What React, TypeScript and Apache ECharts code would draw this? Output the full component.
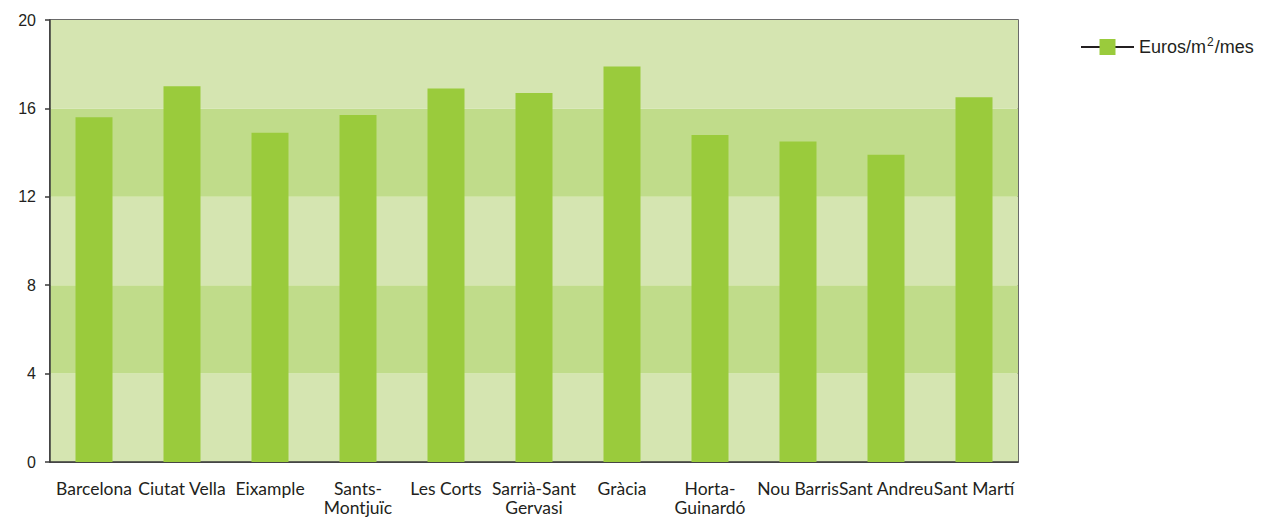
import React, { useEffect, useRef } from "react";
import * as echarts from "echarts";

const categories = [
  "Barcelona",
  "Ciutat Vella",
  "Eixample",
  "Sants-\nMontjuïc",
  "Les Corts",
  "Sarrià-Sant\nGervasi",
  "Gràcia",
  "Horta-\nGuinardó",
  "Nou Barris",
  "Sant Andreu",
  "Sant Martí",
];
const values = [15.6, 17.0, 14.9, 15.7, 16.9, 16.7, 17.9, 14.8, 14.5, 13.9, 16.5];
const seriesName = "Euros/m2/mes";

export default function App() {
  const ref = useRef<HTMLDivElement>(null);
  useEffect(() => {
    if (!ref.current) return;
    const chart = echarts.init(ref.current, undefined, { renderer: "svg" });
    chart.setOption({
      animation: false,
      grid: {
        left: 50,
        right: 246,
        top: 20,
        bottom: 53,
        show: true,
        borderColor: "#3a3a3a",
        borderWidth: 1.5,
        backgroundColor: "transparent",
      },
      legend: {
        left: 1080,
        top: 36,
        padding: 0,
        itemWidth: 53,
        itemHeight: 20,
        data: [seriesName],
        formatter: () => "Euros/m{sup|2}/mes",
        textStyle: {
          fontFamily: "Liberation Sans, Arial, sans-serif",
          fontSize: 18,
          color: "#231f20",
          rich: {
            sup: {
              fontSize: 12,
              verticalAlign: "top",
              padding: [0, 1, 10, 1],
              fontFamily: "Liberation Sans, Arial, sans-serif",
              color: "#231f20",
            },
          },
        },
      },
      xAxis: {
        type: "category",
        data: categories,
        axisLine: { show: true, lineStyle: { color: "#3a3a3a", width: 1.5 } },
        axisTick: { show: false },
        axisLabel: {
          interval: 0,
          margin: 17,
          fontFamily: "Lato, 'Noto Sans', sans-serif",
          fontSize: 17.5,
          color: "#231f20",
          lineHeight: 19,
        },
      },
      yAxis: {
        type: "value",
        min: 0,
        max: 20,
        interval: 4,
        axisLine: { show: true, lineStyle: { color: "#3a3a3a", width: 1.5 } },
        axisTick: { show: true, length: 5, lineStyle: { color: "#3a3a3a", width: 1.5 } },
        axisLabel: {
          margin: 14,
          fontFamily: "Liberation Sans, Arial, sans-serif",
          fontSize: 16,
          color: "#231f20",
        },
        splitLine: { show: false },
        splitArea: {
          show: true,
          areaStyle: { color: ["#d5e5b1", "#c0dc8a"] },
        },
      },
      series: [
        {
          name: "bars",
          type: "bar",
          data: values,
          barWidth: 37,
          itemStyle: { color: "#9acb3c" },
        },
        {
          name: seriesName,
          type: "line",
          data: [],
          symbol: "rect",
          symbolSize: 20,
          itemStyle: { color: "#9acb3c" },
          lineStyle: { color: "#231f20", width: 2 },
        },
      ],
    });
    return () => chart.dispose();
  }, []);
  return (
    <div
      ref={ref}
      style={{ position: "absolute", left: 0, top: 0, width: 1264, height: 517 }}
    />
  );
}
